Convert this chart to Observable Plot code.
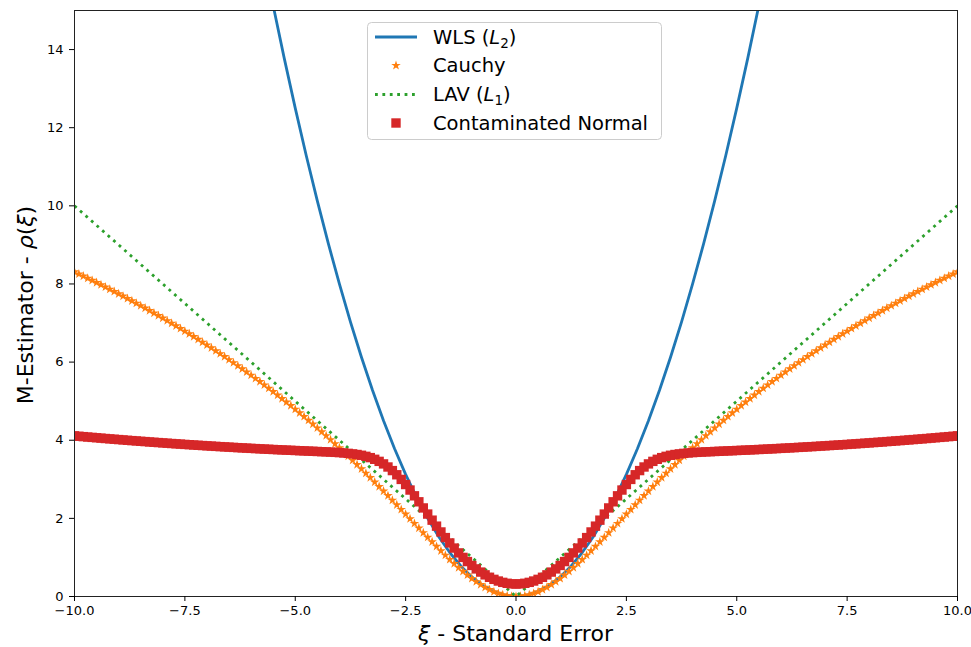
<!DOCTYPE html>
<html>
<head>
<meta charset="utf-8">
<script src="https://cdn.jsdelivr.net/npm/d3@7"></script>
<script src="https://cdn.jsdelivr.net/npm/@observablehq/plot@0.6"></script>
<style>
  html, body { margin: 0; padding: 0; background: #fff; }
  #chart svg { display: block; }
</style>
</head>
<body>
<div id="chart"></div>
<script>
// ---- data ----
const xGrid = [
 -10.0,-9.9,-9.8,-9.7,-9.6,-9.5,-9.4,-9.3,-9.2,-9.1,
 -9.0,-8.9,-8.8,-8.7,-8.6,-8.5,-8.4,-8.3,-8.2,-8.1,
 -8.0,-7.9,-7.8,-7.7,-7.6,-7.5,-7.4,-7.3,-7.2,-7.1,
 -7.0,-6.9,-6.8,-6.7,-6.6,-6.5,-6.4,-6.3,-6.2,-6.1,
 -6.0,-5.9,-5.8,-5.7,-5.6,-5.5,-5.4,-5.3,-5.2,-5.1,
 -5.0,-4.9,-4.8,-4.7,-4.6,-4.5,-4.4,-4.3,-4.2,-4.1,
 -4.0,-3.9,-3.8,-3.7,-3.6,-3.5,-3.4,-3.3,-3.2,-3.1,
 -3.0,-2.9,-2.8,-2.7,-2.6,-2.5,-2.4,-2.3,-2.2,-2.1,
 -2.0,-1.9,-1.8,-1.7,-1.6,-1.5,-1.4,-1.3,-1.2,-1.1,
 -1.0,-0.9,-0.8,-0.7,-0.6,-0.5,-0.4,-0.3,-0.2,-0.1,
 0.0,
 0.1,0.2,0.3,0.4,0.5,0.6,0.7,0.8,0.9,1.0,
 1.1,1.2,1.3,1.4,1.5,1.6,1.7,1.8,1.9,2.0,
 2.1,2.2,2.3,2.4,2.5,2.6,2.7,2.8,2.9,3.0,
 3.1,3.2,3.3,3.4,3.5,3.6,3.7,3.8,3.9,4.0,
 4.1,4.2,4.3,4.4,4.5,4.6,4.7,4.8,4.9,5.0,
 5.1,5.2,5.3,5.4,5.5,5.6,5.7,5.8,5.9,6.0,
 6.1,6.2,6.3,6.4,6.5,6.6,6.7,6.8,6.9,7.0,
 7.1,7.2,7.3,7.4,7.5,7.6,7.7,7.8,7.9,8.0,
 8.1,8.2,8.3,8.4,8.5,8.6,8.7,8.8,8.9,9.0,
 9.1,9.2,9.3,9.4,9.5,9.6,9.7,9.8,9.9,10.0
];

const cauchyY = [
 8.310,8.256,8.202,8.147,8.091,8.035,7.979,7.922,7.864,7.806,
 7.747,7.688,7.628,7.567,7.506,7.444,7.382,7.319,7.255,7.191,
 7.126,7.060,6.994,6.927,6.859,6.791,6.722,6.652,6.581,6.509,
 6.437,6.364,6.289,6.215,6.139,6.062,5.985,5.906,5.827,5.746,
 5.665,5.582,5.499,5.415,5.329,5.243,5.155,5.066,4.977,4.886,
 4.794,4.700,4.606,4.510,4.413,4.315,4.216,4.116,4.014,3.911,
 3.806,3.701,3.594,3.486,3.377,3.267,3.155,3.042,2.929,2.814,
 2.698,2.581,2.464,2.346,2.227,2.108,1.989,1.870,1.751,1.632,
 1.515,1.398,1.282,1.168,1.057,0.948,0.842,0.740,0.642,0.549,
 0.461,0.379,0.303,0.235,0.175,0.122,0.079,0.045,0.020,0.005,
 0,
 0.005,0.020,0.045,0.079,0.122,0.175,0.235,0.303,0.379,0.461,
 0.549,0.642,0.740,0.842,0.948,1.057,1.168,1.282,1.398,1.515,
 1.632,1.751,1.870,1.989,2.108,2.227,2.346,2.464,2.581,2.698,
 2.814,2.929,3.042,3.155,3.267,3.377,3.486,3.594,3.701,3.806,
 3.911,4.014,4.116,4.216,4.315,4.413,4.510,4.606,4.700,4.794,
 4.886,4.977,5.066,5.155,5.243,5.329,5.415,5.499,5.582,5.665,
 5.746,5.827,5.906,5.985,6.062,6.139,6.215,6.289,6.364,6.437,
 6.509,6.581,6.652,6.722,6.791,6.859,6.927,6.994,7.060,7.126,
 7.191,7.255,7.319,7.382,7.444,7.506,7.567,7.628,7.688,7.747,
 7.806,7.864,7.922,7.979,8.035,8.091,8.147,8.202,8.256,8.310
];

const contamY = [
 4.112,4.102,4.092,4.082,4.073,4.063,4.054,4.044,4.035,4.026,
 4.017,4.008,3.999,3.990,3.982,3.973,3.965,3.956,3.948,3.940,
 3.932,3.924,3.916,3.908,3.901,3.893,3.886,3.878,3.871,3.864,
 3.857,3.850,3.843,3.836,3.830,3.823,3.817,3.810,3.804,3.798,
 3.792,3.786,3.780,3.774,3.769,3.763,3.758,3.752,3.747,3.742,
 3.737,3.732,3.727,3.722,3.717,3.712,3.707,3.702,3.696,3.690,
 3.683,3.674,3.664,3.651,3.635,3.615,3.588,3.555,3.512,3.459,
 3.394,3.315,3.223,3.116,2.997,2.866,2.725,2.577,2.424,2.267,
 2.110,1.954,1.801,1.652,1.508,1.371,1.240,1.116,1.001,0.894,
 0.795,0.706,0.625,0.554,0.492,0.439,0.396,0.362,0.338,0.324,
 0.319,
 0.324,0.338,0.362,0.396,0.439,0.492,0.554,0.625,0.706,0.795,
 0.894,1.001,1.116,1.240,1.371,1.508,1.652,1.801,1.954,2.110,
 2.267,2.424,2.577,2.725,2.866,2.997,3.116,3.223,3.315,3.394,
 3.459,3.512,3.555,3.588,3.615,3.635,3.651,3.664,3.674,3.683,
 3.690,3.696,3.702,3.707,3.712,3.717,3.722,3.727,3.732,3.737,
 3.742,3.747,3.752,3.758,3.763,3.769,3.774,3.780,3.786,3.792,
 3.798,3.804,3.810,3.817,3.823,3.830,3.836,3.843,3.850,3.857,
 3.864,3.871,3.878,3.886,3.893,3.901,3.908,3.916,3.924,3.932,
 3.940,3.948,3.956,3.965,3.973,3.982,3.990,3.999,4.008,4.017,
 4.026,4.035,4.044,4.054,4.063,4.073,4.082,4.092,4.102,4.112
];

const wlsX = [-5.5,-5.25,-5.0,-4.75,-4.5,-4.25,-4.0,-3.75,-3.5,-3.25,-3.0,-2.75,-2.5,-2.25,-2.0,-1.75,-1.5,-1.25,-1.0,-0.75,-0.5,-0.25,
              0,0.25,0.5,0.75,1.0,1.25,1.5,1.75,2.0,2.25,2.5,2.75,3.0,3.25,3.5,3.75,4.0,4.25,4.5,4.75,5.0,5.25,5.5];
const wlsY = [15.125,13.781,12.5,11.281,10.125,9.031,8,7.031,6.125,5.281,4.5,3.781,3.125,2.531,2,1.531,1.125,0.781,0.5,0.281,0.125,0.031,
              0,0.031,0.125,0.281,0.5,0.781,1.125,1.531,2,2.531,3.125,3.781,4.5,5.281,6.125,7.031,8,9.031,10.125,11.281,12.5,13.781,15.125];

const lavX = [-10, 0, 10];
const lavY = [10, 0, 10];

const xTicks = [-10, -7.5, -5, -2.5, 0, 2.5, 5, 7.5, 10];
const yTicks = [0, 2, 4, 6, 8, 10, 12, 14];

const seriesNames = ["WLS", "Cauchy", "LAV", "Contaminated Normal"];
const colors = {WLS: "#1f77b4", Cauchy: "#ff7f0e", LAV: "#2ca02c", CN: "#d62728"};

// ---- tables built from the arrays ----
const pts = xGrid.map((x, i) => ({x, cauchy: cauchyY[i], cn: contamY[i]}));
const wls = wlsX.map((x, i) => ({x, y: wlsY[i]}));
const lav = lavX.map((x, i) => ({x, y: lavY[i]}));

const W = 971, H = 647;
const mL = 74, mR = 14, mT = 10, mB = 51;
const lw = 2.8;
const dash = "2.8,4.6";
const starR = 3.0, squareR = 5.3;

const chart = Plot.plot({
  width: W, height: H,
  marginTop: mT, marginRight: mR, marginBottom: mB, marginLeft: mL,
  style: {fontFamily: "'DejaVu Sans', sans-serif", fontSize: "13px", color: "#000", background: "#fff"},
  x: {domain: [-10, 10]},
  y: {domain: [0, 15]},
  marks: [
    Plot.line(wls, {x: "x", y: "y", stroke: colors.WLS, strokeWidth: lw, clip: true}),
    Plot.dot(pts, {x: "x", y: "cauchy", symbol: "star", r: starR, fill: colors.Cauchy, clip: true}),
    Plot.line(lav, {x: "x", y: "y", stroke: colors.LAV, strokeWidth: lw, strokeDasharray: dash, strokeLinecap: "butt", clip: true}),
    Plot.dot(pts, {x: "x", y: "cn", symbol: "square", r: squareR, fill: colors.CN, clip: true}),
    Plot.frame({stroke: "#222", strokeWidth: 1}),
    Plot.axisX({ticks: xTicks, tickFormat: d3.format(".1f"), tickSize: 5, tickPadding: 4, label: null, fontSize: 13}),
    Plot.axisY({ticks: yTicks, tickFormat: d3.format("d"), tickSize: 5, tickPadding: 6, label: null, fontSize: 13})
  ]
});

document.getElementById("chart").appendChild(chart);

// ---- axis labels with math italics ----
const svg = d3.select(chart);
const xl = svg.append("text")
  .attr("x", mL + (W - mL - mR) / 2).attr("y", 641)
  .attr("text-anchor", "middle")
  .style("font-family", "'DejaVu Sans', sans-serif").style("font-size", "22px").attr("fill", "#000");
xl.append("tspan").style("font-style", "italic").text("ξ");
xl.append("tspan").text(" - Standard Error");

const yl = svg.append("text")
  .attr("transform", `translate(33,${mT + (H - mT - mB) / 2 + 2}) rotate(-90)`)
  .attr("text-anchor", "middle")
  .style("font-family", "'DejaVu Sans', sans-serif").style("font-size", "22px").attr("fill", "#000");
yl.append("tspan").text("M-Estimator - ");
yl.append("tspan").style("font-style", "italic").text("ρ");
yl.append("tspan").text("(");
yl.append("tspan").style("font-style", "italic").text("ξ");
yl.append("tspan").text(")");

// ---- legend ----
const lg = svg.append("g")
  .attr("text-anchor", "start")
  .style("font-family", "'DejaVu Sans', sans-serif").style("font-size", "19.5px");
lg.append("rect").attr("x", 367.5).attr("y", 22.5).attr("width", 294).attr("height", 117)
  .attr("rx", 4).attr("fill", "#fff").attr("fill-opacity", 0.8).attr("stroke", "#cccccc").attr("stroke-width", 1);
const rowsY = [37, 65.5, 94.5, 123];
const hx1 = 375, hx2 = 417, hxc = 396, tx = 433;
// WLS
lg.append("line").attr("x1", hx1).attr("x2", hx2).attr("y1", rowsY[0]).attr("y2", rowsY[0]).attr("stroke", colors.WLS).attr("stroke-width", lw);
// Cauchy
lg.append("path").attr("d", d3.symbol(d3.symbolStar, Math.PI * starR * starR)()).attr("transform", `translate(${hxc},${rowsY[1]})`).attr("fill", colors.Cauchy);
// LAV
lg.append("line").attr("x1", hx1).attr("x2", hx2).attr("y1", rowsY[2]).attr("y2", rowsY[2]).attr("stroke", colors.LAV).attr("stroke-width", lw).attr("stroke-dasharray", dash);
// CN
lg.append("path").attr("d", d3.symbol(d3.symbolSquare, Math.PI * squareR * squareR)()).attr("transform", `translate(${hxc},${rowsY[3]})`).attr("fill", colors.CN);

function legendText(y, parts) {
  const t = lg.append("text").attr("x", tx).attr("y", y).attr("dy", "0.35em").attr("fill", "#000").attr("text-anchor", "start");
  parts.forEach(p => {
    const s = t.append("tspan").text(p.t);
    if (p.i) s.style("font-style", "italic");
    if (p.sub) s.attr("baseline-shift", "-25%").style("font-size", "13.5px");
  });
}
legendText(rowsY[0], [{t: "WLS ("}, {t: "L", i: true}, {t: "2", sub: true}, {t: ")"}]);
legendText(rowsY[1], [{t: seriesNames[1]}]);
legendText(rowsY[2], [{t: "LAV ("}, {t: "L", i: true}, {t: "1", sub: true}, {t: ")"}]);
legendText(rowsY[3], [{t: seriesNames[3]}]);
</script>
</body>
</html>
